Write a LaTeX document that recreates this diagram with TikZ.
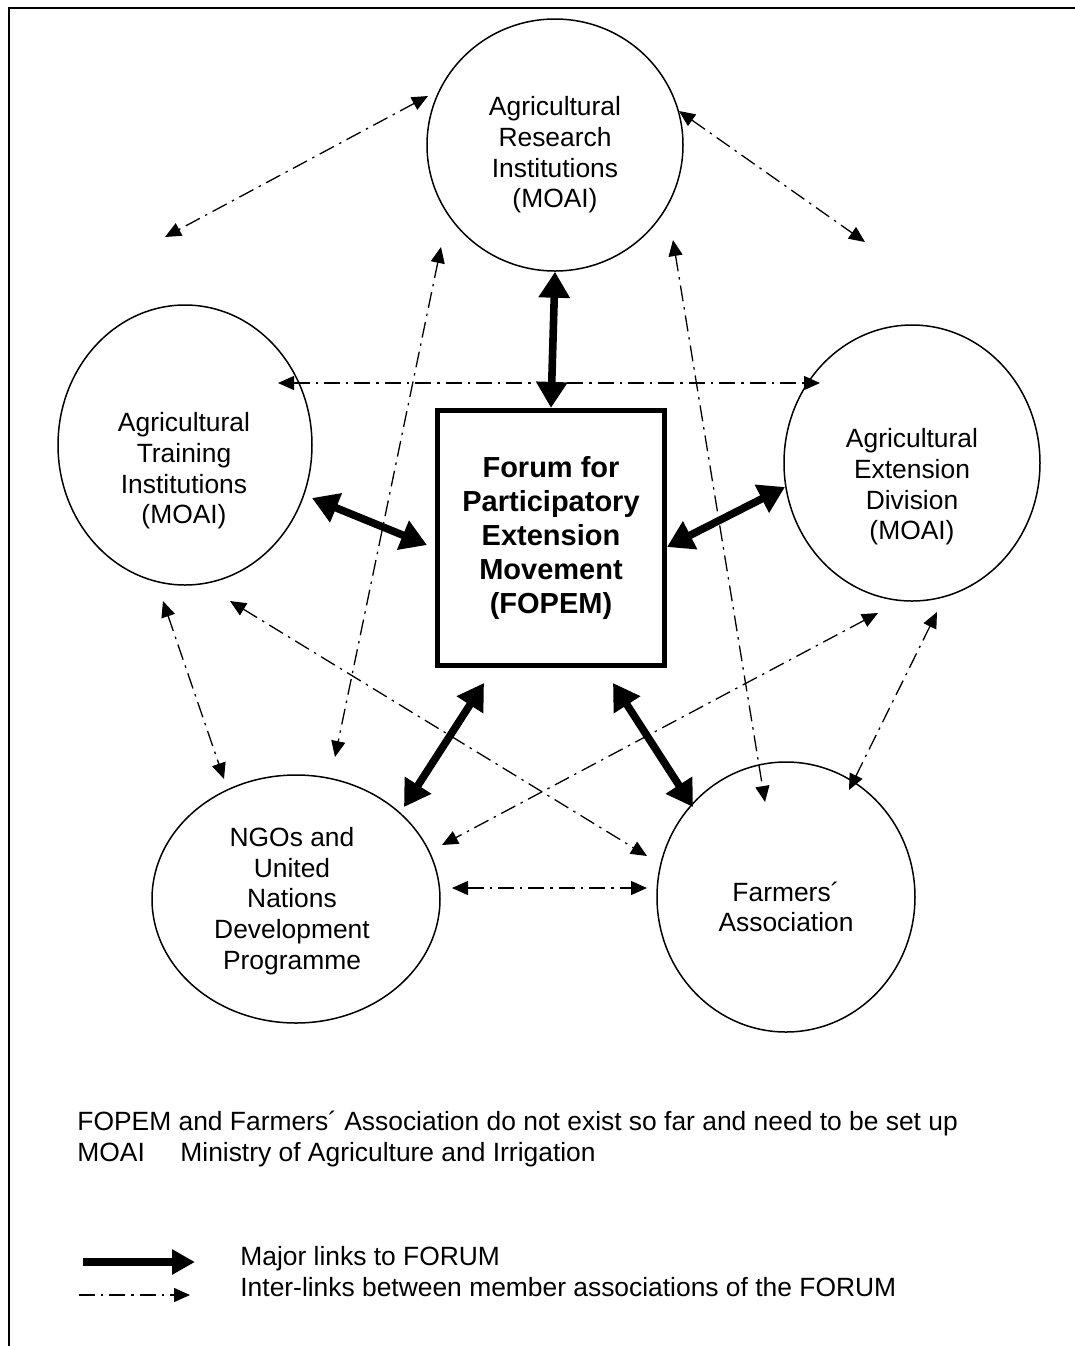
\documentclass[tikz,border=0pt]{standalone}
\usepackage{fontspec}
\setmainfont{Liberation Sans}
\usetikzlibrary{arrows.meta,shapes.geometric}
\begin{document}
\begin{tikzpicture}[x=0.5pt,y=-0.5pt,
  ell/.style={ellipse,draw,line width=0.75pt,inner sep=0pt},
  lbl/.style={align=center,font=\fontsize{13.2}{15.3}\selectfont,inner sep=0pt},
  forumbox/.style={draw,line width=2.6pt,minimum width=113.5pt,minimum height=127.5pt,inner sep=0pt,align=center,font=\bfseries\fontsize{14.5}{17}\selectfont},
  major/.style={line width=3.8pt,{Triangle[length=13pt,width=15pt]}-{Triangle[length=13pt,width=15pt]}},
  majorlegend/.style={line width=4pt,-{Triangle[length=11.5pt,width=12pt]}},
  inter/.style={line width=0.65pt,dash pattern=on 8pt off 3pt on 1.2pt off 3pt,{Triangle[length=8pt,width=7pt]}-{Triangle[length=8pt,width=7pt]}},
  interlegend/.style={line width=0.65pt,dash pattern=on 8pt off 3pt on 1.2pt off 3pt,-{Triangle[length=8pt,width=7pt]}},
  note/.style={anchor=base west,font=\fontsize{13.2}{15.25}\selectfont,inner sep=0pt}]
\useasboundingbox (0,0) rectangle (1075,1346);
% frame
\draw[line width=1.15pt,line join=miter] (9,1346) -- (9,8) -- (1075,8);

% ellipses
\node[ell,minimum width=128pt,minimum height=126pt] (res) at (555,145) {};
\node[ell,minimum width=127pt,minimum height=140pt] (trn) at (185,445) {};
\node[ell,minimum width=128pt,minimum height=138pt] (ext) at (912,463) {};
\node[ell,minimum width=144pt,minimum height=124pt] (ngo) at (296,899) {};
\node[ell,minimum width=129pt,minimum height=135pt] (far) at (786,897) {};

% labels
\node[lbl] (res-t) at (555,155) {Agricultural\\Research\\Institutions\\(MOAI)};
\node[lbl] (trn-t) at (184,471) {Agricultural\\Training\\Institutions\\(MOAI)};
\node[lbl] (ext-t) at (912,487) {Agricultural\\Extension\\Division\\(MOAI)};
\node[lbl] (ngo-t) at (292,901) {NGOs and\\United\\Nations\\Development\\Programme};
\node[lbl] (far-t) at (786,907) {Farmers´\\Association};

% forum box
\node[forumbox] (box) at (551,538) {Forum for\\Participatory\\Extension\\Movement\\(FOPEM)};

% connector end points
\coordinate (tb1) at (312,498); \coordinate (tb2) at (427,545);
\coordinate (eb1) at (785,487); \coordinate (eb2) at (667,547);
\coordinate (nb1) at (404,807); \coordinate (nb2) at (484,683);
\coordinate (fb1) at (693,807); \coordinate (fb2) at (613,683);

\coordinate (rt1) at (428,96);  \coordinate (rt2) at (165,237);
\coordinate (re1) at (679,111); \coordinate (re2) at (865,242);
\coordinate (te1) at (278,383); \coordinate (te2) at (820,383);
\coordinate (rn1) at (441,247); \coordinate (rn2) at (335,757);
\coordinate (rf1) at (673,240); \coordinate (rf2) at (765,802);
\coordinate (tn1) at (163,601); \coordinate (tn2) at (224,779);
\coordinate (tf1) at (230,601); \coordinate (tf2) at (647,856);
\coordinate (en1) at (878,613); \coordinate (en2) at (442,845);
\coordinate (ef1) at (937,612); \coordinate (ef2) at (849,790);
\coordinate (nf1) at (452,888); \coordinate (nf2) at (647,888);

% major links
\draw[major] (res.south) -- (box.north);
\draw[major] (tb1) -- (tb2);
\draw[major] (eb1) -- (eb2);
\draw[major] (nb1) -- (nb2);
\draw[major] (fb1) -- (fb2);

% inter-links
\draw[inter] (rt1) -- (rt2);
\draw[inter] (re1) -- (re2);
\draw[inter] (te1) -- (te2);
\draw[inter] (rn1) -- (rn2);
\draw[inter] (rf1) -- (rf2);
\draw[inter] (tn1) -- (tn2);
\draw[inter] (tf1) -- (tf2);
\draw[inter] (en1) -- (en2);
\draw[inter] (ef1) -- (ef2);
\draw[inter] (nf1) -- (nf2);

% notes
\node[note] (n1) at (77,1130) {FOPEM and Farmers´ Association do not exist so far and need to be set up};
\node[note] (n2) at (77,1161) {MOAI};
\node[note] (n3) at (180,1161) {Ministry of Agriculture and Irrigation};

% legend
\coordinate (lg1a) at (83,1262); \coordinate (lg1b) at (195,1262);
\coordinate (lg2a) at (79,1295); \coordinate (lg2b) at (190,1295);
\draw[majorlegend] (lg1a) -- (lg1b);
\draw[interlegend] (lg2a) -- (lg2b);
\node[note] (l1) at (240,1265) {Major links to FORUM};
\node[note] (l2) at (240,1296) {Inter-links between member associations of the FORUM};
\end{tikzpicture}
\end{document}
